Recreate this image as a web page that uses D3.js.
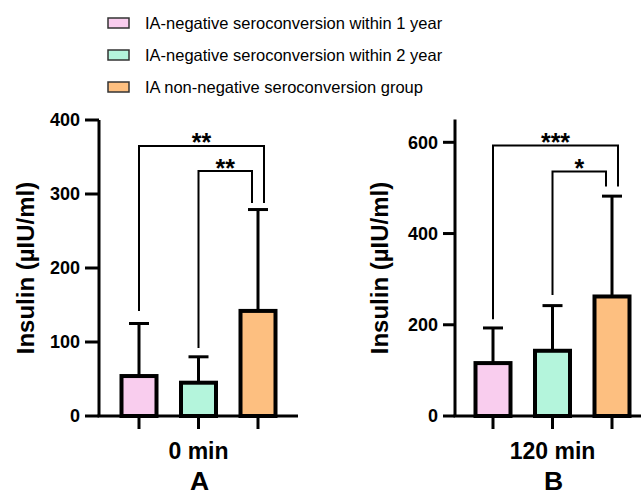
<!DOCTYPE html>
<html lang="en">
<head>
<meta charset="UTF-8">
<title>Insulin</title>
<script src="https://d3js.org/d3.v7.min.js"></script>
<style>
    body { margin: 0; padding: 0; background: #fff; overflow: hidden; }
    svg { font-family: Arial, "Liberation Sans", sans-serif; }
    .tick-label { font-size: 18px; font-weight: bold; fill: #000; }
    .axis-title { font-size: 24px; font-weight: bold; fill: #000; }
    .x-title { font-size: 23px; font-weight: bold; fill: #000; }
    .panel-label { font-size: 26.5px; font-weight: bold; fill: #000; }
    .legend-text { font-size: 16.5px; fill: #000; }
    .star { font-size: 25px; font-weight: bold; fill: #000; }
</style>
</head>
<body>
<script>
    // 数据
    const groups = ["IA-negative seroconversion within 1 year",
                    "IA-negative seroconversion within 2 year",
                    "IA non-negative seroconversion group"];
    const colors = ["#f9cdee", "#b4f5dc", "#fdbf80"];

    const mean0 = [54, 45, 142];
    const sd0 = [71, 35, 137];
    const mean120 = [116, 143, 262];
    const sd120 = [77, 99, 220];

    const ticks0 = [0, 100, 200, 300, 400];
    const ticks120 = [0, 200, 400, 600];

    // 显著性标注: [起始组, 结束组, 横线高度, 左腿底端, 右腿底端, 星号]
    const sig0 = [[0, 2, 365, 142, 288, "**"], [1, 2, 331, 92, 288, "**"]];
    const sig120 = [[0, 2, 593, 212, 503, "***"], [1, 2, 536, 265, 503, "*"]];

    const width = 641, height = 496;
    const svg = d3.select("body").append("svg")
        .attr("width", width)
        .attr("height", height);

    // 图例
    const legend = svg.append("g");
    groups.forEach((g, i) => {
        const y = 23 + i * 32;
        legend.append("rect")
            .attr("x", 108).attr("y", y - 5)
            .attr("width", 21).attr("height", 10)
            .attr("fill", colors[i])
            .attr("stroke", "#333").attr("stroke-width", 1.5);
        legend.append("text")
            .attr("class", "legend-text")
            .attr("x", 145).attr("y", y)
            .attr("dy", "0.35em")
            .text(g);
    });

    function drawPanel(opt) {
        const g = svg.append("g");
        const y = d3.scaleLinear().domain(opt.domain).range([416, opt.top]);
        const x = d3.scalePoint().domain(d3.range(groups.length)).range(opt.xRange);

        // 坐标轴
        g.append("line")
            .attr("x1", opt.axisX).attr("x2", opt.axisX)
            .attr("y1", y(opt.domain[1])).attr("y2", y(0))
            .attr("stroke", "#000").attr("stroke-width", 3);
        g.append("line")
            .attr("x1", opt.axisX - 1.5).attr("x2", opt.axisEnd)
            .attr("y1", y(0)).attr("y2", y(0))
            .attr("stroke", "#000").attr("stroke-width", 3);

        opt.ticks.forEach(t => {
            g.append("line")
                .attr("x1", opt.axisX - opt.tickLen).attr("x2", opt.axisX)
                .attr("y1", y(t)).attr("y2", y(t))
                .attr("stroke", "#000").attr("stroke-width", 3);
            g.append("text")
                .attr("class", "tick-label")
                .attr("x", opt.axisX - opt.tickLen - 5).attr("y", y(t))
                .attr("dy", "0.36em")
                .attr("text-anchor", "end")
                .text(t);
        });

        // 误差线
        opt.mean.forEach((m, i) => {
            const cx = x(i);
            g.append("line")
                .attr("x1", cx).attr("x2", cx)
                .attr("y1", y(m)).attr("y2", y(m + opt.sd[i]))
                .attr("stroke", "#000").attr("stroke-width", 3);
            g.append("line")
                .attr("x1", cx - 10).attr("x2", cx + 10)
                .attr("y1", y(m + opt.sd[i])).attr("y2", y(m + opt.sd[i]))
                .attr("stroke", "#000").attr("stroke-width", 3);
        });

        // 柱子
        g.selectAll("rect.bar")
            .data(opt.mean)
            .enter().append("rect")
            .attr("class", "bar")
            .attr("x", (d, i) => x(i) - 17.5)
            .attr("y", d => y(d))
            .attr("width", 35)
            .attr("height", d => y(0) - y(d))
            .attr("fill", (d, i) => colors[i])
            .attr("stroke", "#000").attr("stroke-width", 4);

        // x 轴刻度
        d3.range(groups.length).forEach(i => {
            g.append("line")
                .attr("x1", x(i)).attr("x2", x(i))
                .attr("y1", y(0)).attr("y2", y(0) + 13)
                .attr("stroke", "#000").attr("stroke-width", 3);
        });

        // 显著性括号
        opt.sig.forEach(s => {
            const x1 = x(s[0]), x2 = x(s[1]) + (s[0] === 0 ? 6 : -6);
            g.append("path")
                .attr("d", `M${x1},${y(s[3])}V${y(s[2])}H${x2}V${y(s[4])}`)
                .attr("fill", "none")
                .attr("stroke", "#000").attr("stroke-width", 2);
            g.append("text")
                .attr("class", "star")
                .attr("x", (x1 + x2) / 2).attr("y", y(s[2]) + 5.5)
                .attr("text-anchor", "middle")
                .text(s[5]);
        });

        const cx = x(1);
        g.append("text")
            .attr("class", "x-title")
            .attr("x", cx).attr("y", 459)
            .attr("text-anchor", "middle")
            .text(opt.xLabel);
        g.append("text")
            .attr("class", "panel-label")
            .attr("x", cx + 1).attr("y", 490)
            .attr("text-anchor", "middle")
            .text(opt.panel);

        g.append("text")
            .attr("class", "axis-title")
            .attr("transform", `translate(${opt.titleX},268) rotate(-90)`)
            .attr("text-anchor", "middle")
            .text("Insulin (µIU/ml)");
    }

    drawPanel({
        domain: [0, 400], top: 120, ticks: ticks0, tickLen: 14,
        xRange: [139, 258], axisX: 99, axisEnd: 298,
        mean: mean0, sd: sd0, sig: sig0,
        xLabel: "0 min", panel: "A", titleX: 34
    });

    drawPanel({
        domain: [0, 650], top: 119.5, ticks: ticks120, tickLen: 12,
        xRange: [493, 612], axisX: 455, axisEnd: 652,
        mean: mean120, sd: sd120, sig: sig120,
        xLabel: "120 min", panel: "B", titleX: 388
    });
</script>
</body>
</html>
